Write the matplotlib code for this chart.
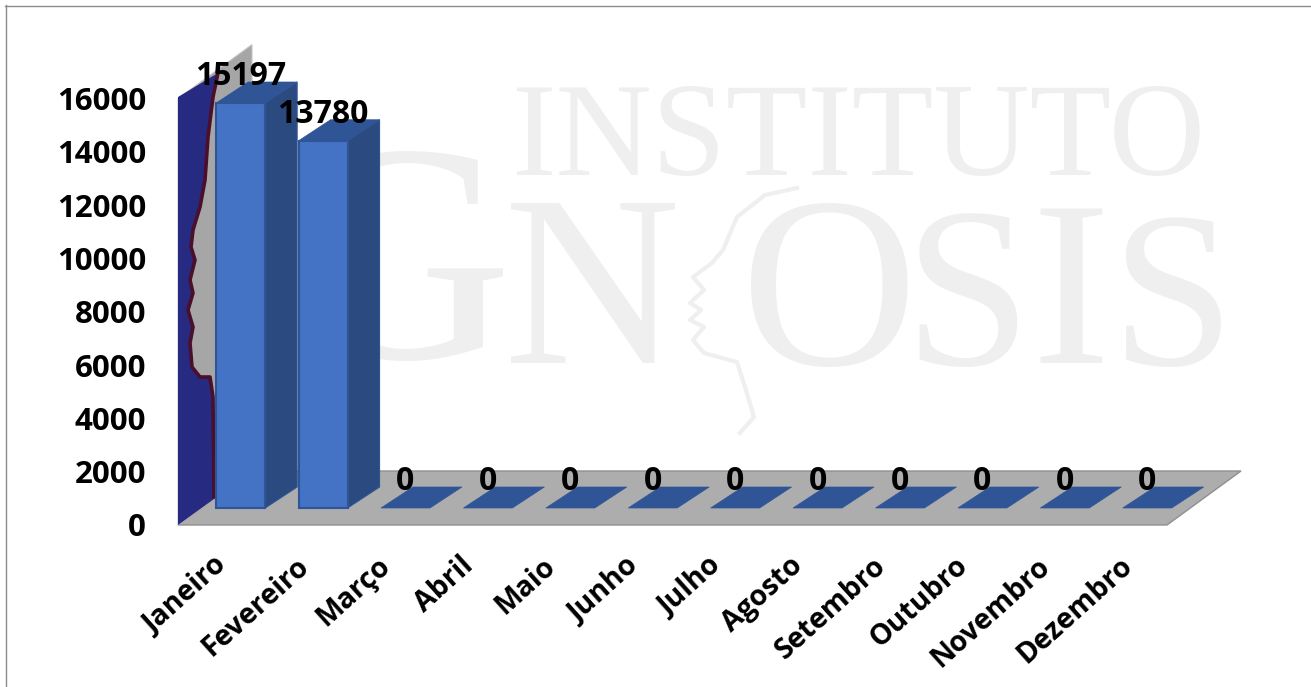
import matplotlib
matplotlib.use('Agg')
import matplotlib.pyplot as plt
from matplotlib.lines import Line2D
from matplotlib.patches import Polygon
from matplotlib.transforms import Affine2D

W, H = 1311, 687

meses = ['Janeiro', 'Fevereiro', 'Março', 'Abril', 'Maio', 'Junho', 'Julho',
         'Agosto', 'Setembro', 'Outubro', 'Novembro', 'Dezembro']
valores = [15197, 13780, 0, 0, 0, 0, 0, 0, 0, 0, 0, 0]
y_ticks = [0, 2000, 4000, 6000, 8000, 10000, 12000, 14000, 16000]

# silhueta do rosto na parede esquerda (pixels da imagem)
parede_x = [218, 213, 208, 205, 200, 193, 191, 195, 190, 193, 188, 193, 190, 192, 200, 210, 213, 214]
parede_y = [73, 97, 137, 180, 207, 230, 247, 260, 280, 293, 310, 327, 343, 367, 377, 377, 397, 497]
# perfil da marca d'agua
perfil_x = [797, 765, 737, 723, 712, 693, 704, 690, 701, 690, 704, 693, 704, 737, 745, 754, 740]
perfil_y = [188, 195, 217, 250, 263, 277, 290, 303, 310, 320, 327, 340, 353, 362, 387, 417, 433]

plt.rcParams['font.family'] = ['Open Sans', 'DejaVu Sans']

fig = plt.figure(figsize=(W / 100, H / 100), dpi=100, facecolor='white')
ax = fig.add_axes([178 / W, (H - 525) / H, (1167 - 178) / W, (525 - 98.6) / H])
ax.set_xlim(-0.5, 11.5)
ax.set_ylim(0, 16000)
ax.patch.set_alpha(0)
for s in ax.spines.values():
    s.set_visible(False)

# pixels da imagem -> tela
px = Affine2D().scale(1, -1).translate(0, H)

# unidades de dados por pixel
ux = 12 / (1167 - 178)
uy = 16000 / (525 - 98.6)


def proj(x, v, dx_px, dy_px):
    # desloca um ponto (categoria, valor) em profundidade, em pixels
    return (x + dx_px * ux, v + dy_px * uy)


# marca d'agua
marca = '#efefef'
serif = 'Liberation Serif'
fig.text(858 / W, 1 - 175 / H, 'INSTITUTO', family=serif, fontsize=96, color=marca, ha='center', va='baseline', zorder=-1)
letras = [('N', 592, 363, 176), ('O', 829, 365, 176), ('S', 967, 365, 165), ('I', 1071, 363, 170), ('S', 1172, 365, 160)]
fig.text(400 / W, 1 - 358 / H, 'G', family=serif, fontsize=224, color=marca, ha='center', va='baseline', zorder=-1)
for txt, xp, yp, fs in letras:
    fig.text(xp / W, 1 - yp / H, txt, family=serif, fontsize=fs, color=marca, ha='center', va='baseline', zorder=-1)
fig.add_artist(Line2D([p / W for p in perfil_x], [1 - p / H for p in perfil_y], color=marca, lw=3, zorder=-1))

# borda
fig.add_artist(Line2D([5 / W, 1], [1 - 5.5 / H, 1 - 5.5 / H], color='#8c8c8c', lw=1.0))
fig.add_artist(Line2D([5.5 / W, 5.5 / W], [0, 1 - 5 / H], color='#8c8c8c', lw=1.0))

# piso e parede
prof = (74, 54)
piso = [proj(-0.5, 0, 0, 0), proj(11.5, 0, 0, 0), proj(11.5, 0, *prof), proj(-0.5, 0, *prof)]
ax.add_patch(Polygon(piso, closed=True, facecolor='#adadad', edgecolor='#8f8f8f', lw=1.0, clip_on=False, zorder=1))
parede = [proj(-0.5, 0, 0, 0), proj(-0.5, 16000, 0, 0), proj(-0.5, 16000, *prof), proj(-0.5, 0, *prof)]
ax.add_patch(Polygon(parede, closed=True, facecolor='#a6a6a6', edgecolor='#c4c4c4', lw=0.8, clip_on=False, zorder=1))

# parte azul da parede com o contorno vermelho escuro
azul = [(178, 525), (178, 97)] + list(zip(parede_x, parede_y)) + [(214, 499)]
ax.add_patch(Polygon(azul, closed=True, facecolor='#262a80', edgecolor='none', transform=px, clip_on=False, zorder=2))
ax.plot(parede_x, parede_y, color='#4a0f2a', lw=2.6, transform=px, clip_on=False, zorder=3)

# barras
x = list(range(12))
desl = 0.26
base = 17 * uy
largura = 49 * ux
prof_barra = (32, 21)
for xi, v in zip(x, valores):
    c = xi + desl
    e, d = c - largura / 2, c + largura / 2
    topo = [proj(e, v + base, 0, 0), proj(d, v + base, 0, 0),
            proj(d, v + base, *prof_barra), proj(e, v + base, *prof_barra)]
    ax.add_patch(Polygon(topo, closed=True, facecolor='#2f5597', edgecolor='#2f5597', lw=0.5, clip_on=False, zorder=4))
    if v > 0:
        lado = [proj(d, base, 0, 0), proj(d, v + base, 0, 0),
                proj(d, v + base, *prof_barra), proj(d, base, *prof_barra)]
        ax.add_patch(Polygon(lado, closed=True, facecolor='#2a4a80', edgecolor='#2f5597', lw=0.8, clip_on=False, zorder=4))
ax.bar([xi + desl for xi in x if valores[xi] > 0], [v for v in valores if v > 0], width=largura, bottom=base,
       color='#4472c4', edgecolor='#2f5597', linewidth=1.5, clip_on=False, zorder=5)

# rotulos de dados
for xi, v in zip(x, valores):
    ax.text(xi + desl, v + base + 26 * uy, str(v), ha='center', va='center', fontsize=23,
            fontweight='bold', color='black', zorder=6, clip_on=False)

ax.set_yticks(y_ticks)
ax.set_yticklabels([str(t) for t in y_ticks], fontsize=22.5, fontweight='bold')
ax.set_xticks([xi - 0.08 for xi in x])
ax.set_xticklabels(meses, fontsize=20.5, fontweight='bold', rotation=42, ha='right', va='top',
                   rotation_mode='anchor')
ax.tick_params(axis='y', length=0, pad=23)
ax.tick_params(axis='x', length=0, pad=19)

fig.savefig('out.png', dpi=100, facecolor='white')
